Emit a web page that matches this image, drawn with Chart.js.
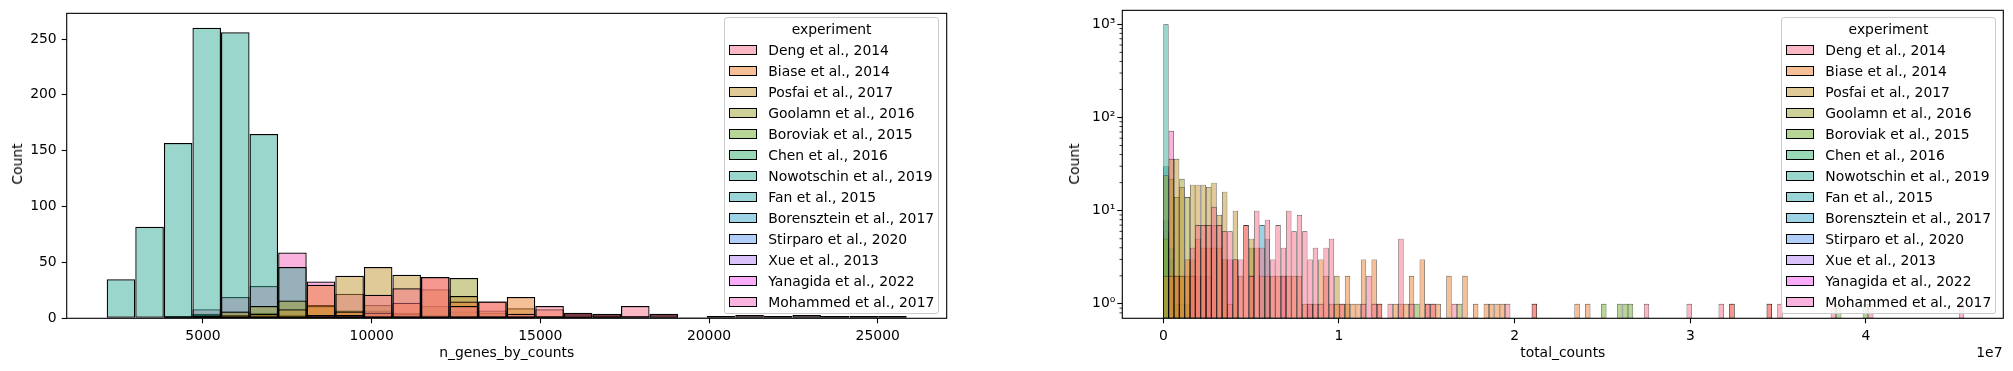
<!DOCTYPE html>
<html>
<head>
<meta charset="utf-8">
<script src="https://cdn.jsdelivr.net/npm/chart.js@4.4.1/dist/chart.umd.min.js"></script>
<style>
html,body{margin:0;padding:0;background:#fff;width:2013px;height:371px;overflow:hidden;font-family:'DejaVu Sans',sans-serif;}
.wrap{position:absolute;top:0;height:371px;}
.lbl{position:absolute;font-size:13.9px;color:#000;white-space:nowrap;height:18px;line-height:18px;}
.legend{position:absolute;background:rgba(255,255,255,0.8);border:1px solid #cccccc;border-radius:3px;box-sizing:border-box;font-size:13.9px;color:#000;}
.legend .t{position:absolute;left:0;right:0;text-align:center;height:18px;line-height:18px;}
.legend .p{position:absolute;width:28px;height:10px;box-sizing:border-box;border:1.3px solid #000;}
.legend .n{position:absolute;height:18px;line-height:18px;white-space:nowrap;}
</style>
</head>
<body>
<div class="wrap" style="left:0;width:1000px;"><canvas id="cl" width="1000" height="371"></canvas></div>
<div class="wrap" style="left:1040px;width:973px;"><canvas id="cr" width="973" height="371"></canvas></div>

<div class="lbl" style="left:16.5px;top:164.3px;transform:translate(-50%,-50%) rotate(-90deg);">Count</div>
<div class="lbl" style="left:506.7px;top:351.7px;transform:translate(-50%,-50%);">n_genes_by_counts</div>
<div class="lbl" style="left:1074px;top:164.3px;transform:translate(-50%,-50%) rotate(-90deg);">Count</div>
<div class="lbl" style="left:1562.8px;top:351.7px;transform:translate(-50%,-50%);">total_counts</div>
<div class="lbl" style="left:2002.5px;top:351.7px;transform:translate(-100%,-50%);">1e7</div>

<div id="legL" class="legend" style="left:724.3px;top:17.3px;width:214.7px;height:296.7px;"></div>
<div id="legR" class="legend" style="left:1780.7px;top:17.3px;width:215.6px;height:296.7px;"></div>

<script>
// ---------------- categories ----------------
const experiments = ["Deng et al., 2014","Biase et al., 2014","Posfai et al., 2017","Goolamn et al., 2016","Boroviak et al., 2015","Chen et al., 2016","Nowotschin et al., 2019","Fan et al., 2015","Borensztein et al., 2017","Stirparo et al., 2020","Xue et al., 2013","Yanagida et al., 2022","Mohammed et al., 2017"];

// ---------------- left panel: n_genes_by_counts (28 bins) ----------------
const ngBinCenters = [2569,3416,4263,5110,5957,6804,7651,8498,9345,10192,11038,11885,12732,13579,14426,15273,16120,16967,17814,18660,19507,20354,21201,22048,22895,23742,24589,25436];
const ngDeng        = [0,0,0,0,0,0,1,3,3,21,27,37,11,15,4,11,5,4,11,4,1,2,3,2,3,2,2,2];
const ngBiase       = [0,0,0,0,0,0,0,30,6,5,14,37,15,15,19,8,3,2,2,3,0,1,1,1,1,1,1,1];
const ngPosfai      = [0,0,0,1,6,4,8,11,38,46,39,26,20,7,9,2,1,0,0,0,0,0,0,0,0,0,0,0];
const ngGoolamn     = [0,0,1,2,3,11,16,12,7,12,4,11,36,5,4,1,0,0,0,0,0,0,0,0,0,0,0,0];
const ngBoroviak    = [0,0,1,1,2,3,3,2,2,7,5,3,6,2,1,0,0,0,0,0,0,0,0,0,0,0,0,0];
const ngChen        = [0,0,1,2,2,1,2,1,0,1,0,0,0,0,0,0,0,0,0,0,0,0,0,0,0,0,0,0];
const ngNowotschin  = [35,82,157,260,256,165,46,0,0,0,0,0,0,0,0,0,0,0,0,0,0,0,0,0,0,0,0,0];
const ngFan         = [0,0,0,2,3,4,2,1,0,0,0,0,0,0,0,0,0,0,0,0,0,0,0,0,0,0,0,0];
const ngBorensztein = [0,0,0,3,2,2,1,0,0,0,0,0,0,0,0,0,0,0,0,0,0,0,0,0,0,0,0,0];
const ngStirparo    = [0,0,2,4,6,5,3,1,0,0,0,0,0,0,0,0,0,0,0,0,0,0,0,0,0,0,0,0];
const ngXue         = [0,0,0,0,1,1,1,1,0,0,0,0,0,0,0,0,0,0,0,0,0,0,0,0,0,0,0,0];
const ngYanagida    = [0,0,0,1,2,1,1,0,0,0,0,0,0,0,0,0,0,0,0,0,0,0,0,0,0,0,0,0];
const ngMohammed    = [0,0,0,8,19,29,59,33,22,6,3,2,1,1,1,1,4,3,0,0,0,0,0,0,0,0,0,0];
const ngXTicks = [5000,10000,15000,20000,25000];
const ngYTicks = [0,50,100,150,200,250];

// ---------------- right panel: total_counts (150 bins, [bin index, count]) ----------------
const tcBinWidth = 303930;
const tcDeng = [[5,4],[6,7],[7,7],[8,7],[9,11],[10,7],[11,6],[12,6],[13,3],[14,3],[15,7],[16,2],[17,10],[18,4],[19,8],[20,3],[21,7],[22,4],[23,10],[24,6],[25,9],[26,6],[27,3],[28,4],[29,1],[30,4],[31,5],[33,1],[37,1],[38,2],[39,1],[40,1],[42,1],[44,5],[46,1],[49,1],[50,1],[54,1],[64,1],[69,1],[90,1],[98,1],[104,1],[106,1],[113,1],[115,1],[125,1],[132,1],[149,1]];
const tcBiase = [[1,2],[2,2],[3,2],[4,3],[5,2],[6,5],[7,4],[8,4],[9,4],[10,4],[11,3],[12,1],[13,3],[14,2],[15,7],[16,2],[17,4],[18,2],[19,2],[20,2],[21,2],[22,2],[23,2],[24,2],[25,2],[26,1],[27,1],[28,1],[29,3],[30,2],[31,1],[32,1],[33,1],[34,2],[35,1],[36,1],[37,3],[39,3],[40,1],[43,1],[44,1],[45,1],[46,2],[48,3],[49,1],[50,1],[51,1],[53,2],[56,2],[58,1],[60,1],[61,1],[62,1],[63,1],[69,1],[77,1],[79,1],[106,1],[113,1]];
const tcPosfai = [[0,2],[1,36],[2,36],[3,18],[4,2],[5,19],[6,19],[7,19],[8,18],[9,20],[10,9],[11,16],[13,10],[16,5],[32,2],[34,1]];
const tcGoolamn = [[0,24],[1,22],[2,14],[3,22],[4,14],[5,3],[11,3],[16,4],[55,1]];
const tcBoroviak = [[0,5],[1,2],[2,1],[3,2],[4,1],[47,1],[82,1],[85,1],[86,1],[87,1],[126,1],[131,1]];
const tcChen = [[0,5],[1,2],[2,1]];
const tcNowotschin = [[0,1001]];
const tcFan = [[0,30],[1,3]];
const tcBorensztein = [[0,8],[1,4],[18,7],[19,5]];
const tcStirparo = [[0,6],[2,2],[3,1]];
const tcXue = [[1,1],[2,1],[27,1]];
const tcYanagida = [[0,2],[22,2]];
const tcMohammed = [[1,72],[2,2],[5,2],[6,2],[7,2],[8,2],[9,7],[12,3]];
const tcXTicks = [0,10000000,20000000,30000000,40000000];
const tcYTicks = [1,10,100,1000];
const tcYMinorTicks = [0.8,0.9,2,3,4,5,6,7,8,9,20,30,40,50,60,70,80,90,200,300,400,500,600,700,800,900];

const ngCounts = [ngDeng,ngBiase,ngPosfai,ngGoolamn,ngBoroviak,ngChen,ngNowotschin,ngFan,ngBorensztein,ngStirparo,ngXue,ngYanagida,ngMohammed];
const tcCounts = [tcDeng,tcBiase,tcPosfai,tcGoolamn,tcBoroviak,tcChen,tcNowotschin,tcFan,tcBorensztein,tcStirparo,tcXue,tcYanagida,tcMohammed];

// ---------------- seaborn husl palette ----------------
function huslToRgb(H, S, L){
  const M=[[3.2406,-1.5372,-0.4986],[-0.9689,1.8758,0.0415],[0.0557,-0.2040,1.0570]];
  const refU=0.19784, refV=0.46834, labE=0.008856, labK=903.3;
  const hr=H*Math.PI/180, sinH=Math.sin(hr), cosH=Math.cos(hr);
  const sub1=Math.pow(L+16,3)/1560896, sub2=sub1>labE?sub1:L/labK;
  let mx=Infinity;
  for(const [m1,m2,m3] of M){
    const top=(0.99915*m1+1.05122*m2+1.14460*m3)*sub2;
    const rb=0.86330*m3-0.17266*m2, lb=0.12949*m3-0.38848*m1;
    const bottom=(rb*sinH+lb*cosH)*sub2;
    for(const t of [0,1]){
      const C=L*(top-1.05122*t)/(bottom+0.17266*sinH*t);
      if(C>0&&C<mx) mx=C;
    }
  }
  const C=mx/100*S, U=Math.cos(hr)*C, V=Math.sin(hr)*C;
  const tt=(L+16)/116, varY=Math.pow(tt,3)>labE?Math.pow(tt,3):(116*tt-16)/labK;
  const varU=U/(13*L)+refU, varV=V/(13*L)+refV;
  const Y=varY, X=-(9*Y*varU)/((varU-4)*varV-varU*varV), Z=(9*Y-15*varV*Y-varV*X)/(3*varV);
  const f=c=>c<=0.0031308?12.92*c:1.055*Math.pow(c,1/2.4)-0.055;
  return M.map(r=>Math.round(255*Math.min(1,Math.max(0,f(r[0]*X+r[1]*Y+r[2]*Z)))));
}
const palette = experiments.map((_,i)=>{
  const h=((i/experiments.length)+0.01)%1*359;
  return huslToRgb(h, 0.9*99, 0.65*99);
});
const rgba=(i,a)=>`rgba(${palette[i][0]},${palette[i][1]},${palette[i][2]},${a})`;

Chart.defaults.font.family = "'DejaVu Sans', sans-serif";
Chart.defaults.font.size = 13.9;
Chart.defaults.color = '#000';

const framePlugin = {id:'frame', afterDatasetsDraw(chart){
  const {ctx, chartArea:a} = chart;
  ctx.save(); ctx.strokeStyle='#000'; ctx.lineWidth=1.1;
  ctx.strokeRect(a.left, a.top, a.right-a.left, a.bottom-a.top);
  ctx.restore();
}};
const minorTickPlugin = {id:'minorTicks', afterDatasetsDraw(chart){
  const {ctx, chartArea:a} = chart; const ys = chart.scales.y;
  ctx.save(); ctx.strokeStyle='#000'; ctx.lineWidth=0.8;
  for(const v of tcYMinorTicks){
    const p = ys.getPixelForValue(v);
    if(p < a.top || p > a.bottom) continue;
    ctx.beginPath(); ctx.moveTo(a.left, p); ctx.lineTo(a.left-2.8, p); ctx.stroke();
  }
  ctx.restore();
}};

function axisCommon(){
  return {
    offset:false,
    grid:{display:true, drawOnChartArea:false, drawTicks:true, tickLength:5, tickWidth:1.1, tickColor:'#000', offset:false},
    border:{display:false},
  };
}

// left chart
new Chart(document.getElementById('cl'), {
  type:'bar',
  data:{datasets: experiments.map((name,k)=>({
    label:name,
    data: ngCounts[k].map((c,i)=>({x:ngBinCenters[i], y:c})).filter(p=>p.y>0),
    backgroundColor: rgba(k,0.5), borderColor:'#000', borderWidth:1.25,
    borderSkipped:false, inflateAmount:0, grouped:false, barPercentage:1, categoryPercentage:1
  }))},
  options:{
    responsive:false, animation:false, events:[],
    layout:{padding:{left:0, top:10.3, right:53.3, bottom:0}},
    plugins:{legend:{display:false}, tooltip:{enabled:false}},
    scales:{
      x:Object.assign(axisCommon(), {type:'linear', min:960, max:27045,
        ticks:{autoSkip:false, maxRotation:0, padding:5, callback:v=>String(v)},
        afterBuildTicks:s=>{s.ticks = ngXTicks.map(v=>({value:v}));},
        afterFit:s=>{s.height = 52.7;}}),
      y:Object.assign(axisCommon(), {type:'linear', min:0, max:273,
        ticks:{autoSkip:false, padding:5, callback:v=>String(v)},
        afterBuildTicks:s=>{s.ticks = ngYTicks.map(v=>({value:v}));},
        afterFit:s=>{s.width = 66.7;}})
    }
  },
  plugins:[framePlugin]
});

// right chart
const sup = {0:'\u2070',1:'\u00B9',2:'\u00B2',3:'\u00B3'};
new Chart(document.getElementById('cr'), {
  type:'bar',
  data:{datasets: experiments.map((name,k)=>({
    label:name,
    data: tcCounts[k].map(([b,c])=>({x:(b+0.5)*tcBinWidth, y:c})),
    backgroundColor: rgba(k,0.5), borderColor:'rgba(0,0,0,0.8)', borderWidth:0.6,
    borderSkipped:false, inflateAmount:0, grouped:false, barPercentage:1, categoryPercentage:1
  }))},
  options:{
    responsive:false, animation:false, events:[],
    layout:{padding:{left:0, top:10.3, right:9.7, bottom:0}},
    plugins:{legend:{display:false}, tooltip:{enabled:false}},
    scales:{
      x:Object.assign(axisCommon(), {type:'linear', min:-2334000, max:47816000,
        ticks:{autoSkip:false, maxRotation:0, padding:5, callback:v=>String(Math.round(v/1e7))},
        afterBuildTicks:s=>{s.ticks = tcXTicks.map(v=>({value:v}));},
        afterFit:s=>{s.height = 52.7;}}),
      y:Object.assign(axisCommon(), {type:'logarithmic', min:0.708, max:1413,
        ticks:{autoSkip:false, padding:2, callback:v=>'10'+sup[Math.round(Math.log10(v))]},
        afterBuildTicks:s=>{s.ticks = tcYTicks.map(v=>({value:v, major:true}));},
        afterFit:s=>{s.width = 82.3;}})
    }
  },
  plugins:[framePlugin, minorTickPlugin]
});

// legends (HTML)
function buildLegend(id, patchLeft, textLeft){
  const el = document.getElementById(id);
  let html = `<div class="t" style="top:${28-17.3-9}px;">experiment</div>`;
  experiments.forEach((name,i)=>{
    const cy = 49 + 21*i - 17.3;
    html += `<div class="p" style="left:${patchLeft}px;top:${cy-5}px;background:${rgba(i,0.5)};"></div>`;
    html += `<div class="n" style="left:${textLeft}px;top:${cy-9}px;">${name}</div>`;
  });
  el.innerHTML = html;
}
buildLegend('legL', 4, 43);
buildLegend('legR', 4.3, 43.6);
</script>
</body>
</html>
